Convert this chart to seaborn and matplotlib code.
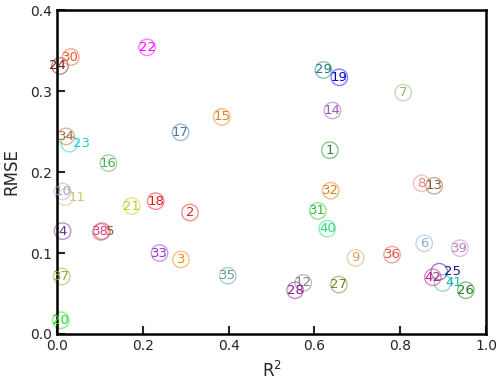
import matplotlib
matplotlib.use("Agg")
import matplotlib.pyplot as plt
import seaborn as sns
import pandas as pd

labels = [str(i) for i in range(1, 43)]
r2 = [0.636, 0.310, 0.289, 0.013, 0.105, 0.856, 0.807, 0.850, 0.696, 0.013,
      0.019, 0.574, 0.879, 0.642, 0.384, 0.120, 0.288, 0.230, 0.658, 0.009,
      0.174, 0.210, 0.029, 0.007, 0.891, 0.953, 0.657, 0.555, 0.621, 0.032,
      0.608, 0.638, 0.239, 0.021, 0.398, 0.781, 0.011, 0.102, 0.939, 0.630,
      0.899, 0.876]
rmse = [0.227, 0.150, 0.092, 0.127, 0.127, 0.112, 0.298, 0.186, 0.094, 0.176,
        0.169, 0.063, 0.183, 0.276, 0.268, 0.211, 0.249, 0.164, 0.317, 0.017,
        0.158, 0.354, 0.235, 0.331, 0.077, 0.054, 0.061, 0.054, 0.326, 0.342,
        0.152, 0.177, 0.100, 0.244, 0.072, 0.098, 0.071, 0.126, 0.106, 0.130,
        0.063, 0.070]
colors = ['forestgreen', 'tab:red', 'tab:orange', 'rebeccapurple', 'sienna',
          '#8aaccf', '#8fbc6f', 'lightcoral', '#d9a066', '#b89cc8',
          '#c8c870', 'gray', '#8b5a3c', '#9b59b6', '#e67e22',
          '#4caf50', '#4a7aa8', '#e8141a', 'blue', '#22dd22',
          '#c8c820', 'magenta', '#22cccc', '#7a1a1a', '#1a1a80',
          '#1e7a1e', '#808020', '#8b1a8b', '#1a7a7a', '#ee5522',
          '#33bb33', '#e08010', '#9932cc', '#b86a3a', '#5f9ea0',
          '#e05040', '#8aaa30', '#e0407a', '#c080c0', '#22dd77',
          '#20b2aa', '#c71585']
# label shift in R2 units for the few labels drawn beside their circle
label_dx = {'5': 0.02, '11': 0.028, '23': 0.027, '24': -0.006, '25': 0.03, '41': 0.026}

df = pd.DataFrame({'label': labels, 'R2': r2, 'RMSE': rmse})
palette = dict(zip(labels, colors))

sns.set_style("ticks")
plt.rcParams['font.family'] = ['DejaVu Sans']

fig, ax = plt.subplots(figsize=(5, 3.87), dpi=100)
sns.scatterplot(data=df, x='R2', y='RMSE', hue='label', palette=palette,
                legend=False, s=140, marker='o', linewidth=1, ax=ax, clip_on=False)
pts = ax.collections[0]
fc = pts.get_facecolors()
fc[:, 3] = 0.5
pts.set_edgecolors(fc)
pts.set_facecolors('none')

for lab, x, y in zip(labels, r2, rmse):
    ax.text(x + label_dx.get(lab, 0), y, lab, color=palette[lab], fontsize=9.5,
            ha='center', va='center')

ax.set_xlim(0, 1.0)
ax.set_ylim(0, 0.4)
ax.set_xticks([0.0, 0.2, 0.4, 0.6, 0.8, 1.0])
ax.set_yticks([0.0, 0.1, 0.2, 0.3, 0.4])
ax.set_xlabel('R$^2$', fontsize=12, labelpad=6)
ax.set_ylabel('RMSE', fontsize=12, labelpad=7)
ax.tick_params(direction='in', length=6, width=1.5, labelsize=10,
               labelcolor='#262626')
for sp in ax.spines.values():
    sp.set_linewidth(1.8)
    sp.set_color('black')

fig.subplots_adjust(left=0.114, right=0.972, bottom=0.137, top=0.974)
fig.savefig('out.png', dpi=100)
